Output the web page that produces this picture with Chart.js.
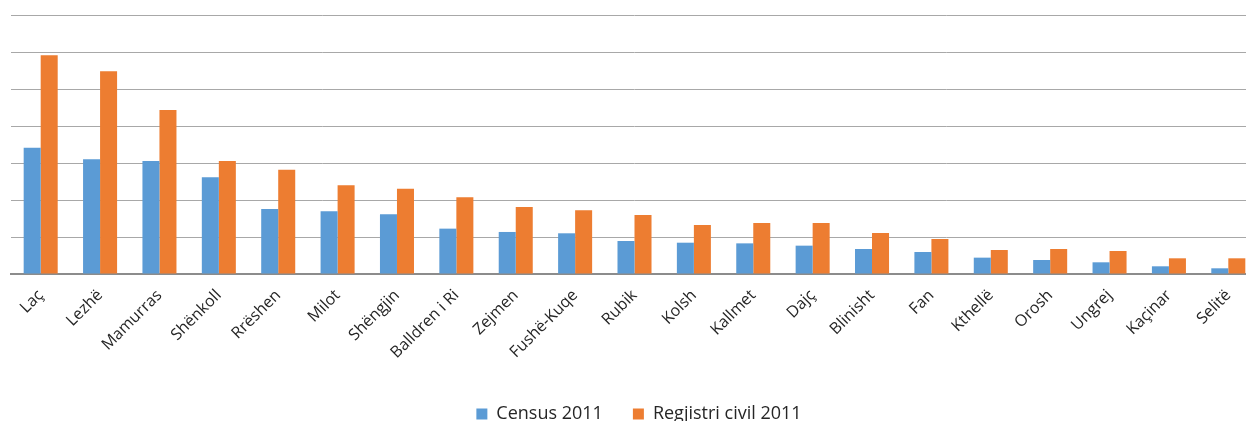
<!DOCTYPE html>
<html>
<head>
<meta charset="utf-8">
<script src="https://cdn.jsdelivr.net/npm/chart.js@4.4.1/dist/chart.umd.min.js"></script>
<style>
  html, body { margin: 0; padding: 0; background: #fff; overflow: hidden; }
  #wrap { position: relative; width: 1278px; height: 433px; }
</style>
</head>
<body>
<div id="wrap"><canvas id="c" width="1278" height="433"></canvas></div>
<script>
const categories = ["Laç", "Lezhë", "Mamurras", "Shënkoll", "Rrëshen", "Milot", "Shëngjin", "Balldren i Ri", "Zejmen", "Fushë-Kuqe", "Rubik", "Kolsh", "Kallmet", "Dajç", "Blinisht", "Fan", "Kthellë", "Orosh", "Ungrej", "Kaçinar", "Selitë"];
const census2011 = [17070, 15500, 15270, 13060, 8780, 8470, 8060, 6130, 5680, 5500, 4460, 4230, 4140, 3830, 3380, 2970, 2210, 1890, 1580, 1040, 770];
const regjistriCivil2011 = [29550, 27390, 22160, 15270, 14100, 11980, 11530, 10360, 9050, 8600, 7970, 6620, 6890, 6890, 5540, 4730, 3240, 3380, 3110, 2120, 2120];
const seriesNames = ["Census 2011", "Regjistri civil 2011"];

const FONT = "'Open Sans', 'DejaVu Sans', sans-serif";

new Chart(document.getElementById('c'), {
  type: 'bar',
  data: {
    labels: categories,
    datasets: [
      { label: seriesNames[0], data: census2011, backgroundColor: '#5B9BD5', categoryPercentage: 0.573, barPercentage: 1.0 },
      { label: seriesNames[1], data: regjistriCivil2011, backgroundColor: '#ED7D31', categoryPercentage: 0.573, barPercentage: 1.0 }
    ]
  },
  options: {
    responsive: false,
    animation: false,
    devicePixelRatio: 1,
    layout: { padding: { top: 15, left: 0, right: 0, bottom: 0 } },
    plugins: {
      tooltip: { enabled: false },
      legend: {
        position: 'bottom',
        labels: {
          boxWidth: 11, boxHeight: 11, padding: 30,
          color: '#262626',
          font: { family: FONT, size: 18 }
        }
      }
    },
    scales: {
      x: {
        grid: { display: false, drawTicks: false },
        border: { display: true, color: '#8c8c8c', width: 2 },
        ticks: {
          minRotation: 45, maxRotation: 45, padding: 12,
          autoSkip: false,
          color: '#262626',
          font: { family: FONT, size: 16 }
        },
        afterFit: (s) => { s.height = 101; }
      },
      y: {
        min: 0, max: 35000,
        ticks: { display: false, stepSize: 5000 },
        grid: { color: '#a8a8a8', lineWidth: 1, drawTicks: false },
        border: { display: false },
        afterFit: (s) => { s.width = 11; }
      },
      y2: {
        position: 'right',
        min: 0, max: 35000,
        ticks: { display: false },
        grid: { display: false, drawTicks: false },
        border: { display: false },
        afterFit: (s) => { s.width = 20; }
      }
    }
  }
});
</script>
</body>
</html>
